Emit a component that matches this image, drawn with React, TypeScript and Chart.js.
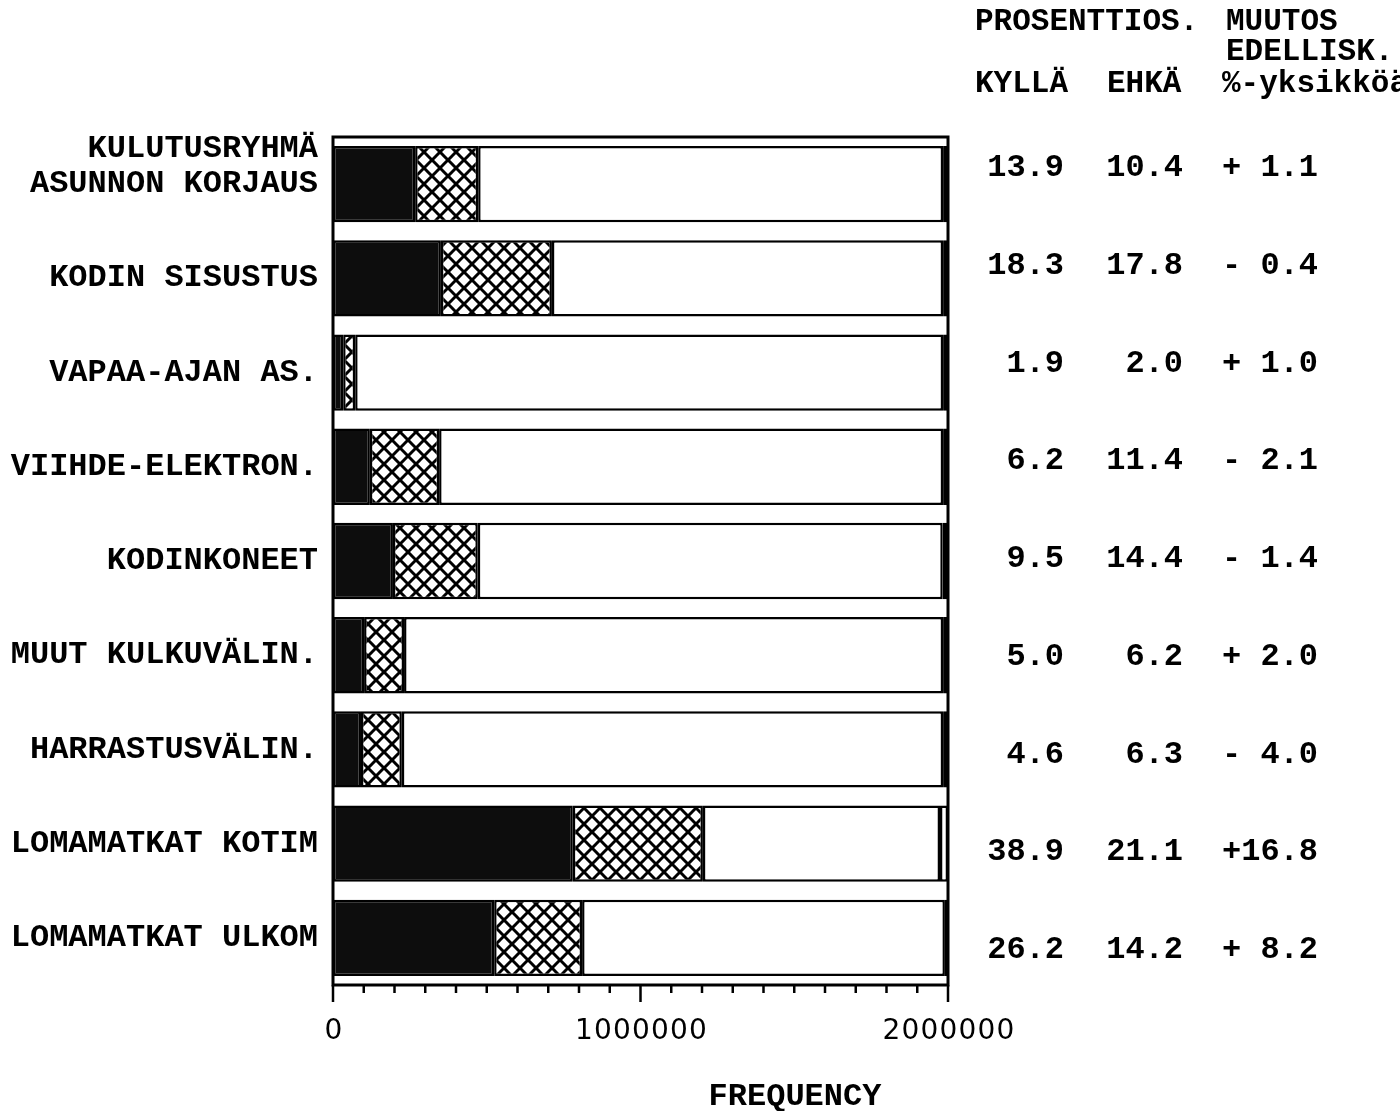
import React, { useEffect, useRef } from "react";
import { Chart, registerables } from "chart.js";

Chart.register(...registerables);

// ---------- data ----------
const categories = [
  "ASUNNON KORJAUS",
  "KODIN SISUSTUS",
  "VAPAA-AJAN AS.",
  "VIIHDE-ELEKTRON.",
  "KODINKONEET",
  "MUUT KULKUVÄLIN.",
  "HARRASTUSVÄLIN.",
  "LOMAMATKAT KOTIM",
  "LOMAMATKAT ULKOM",
];

// frequencies
const kyllaFreq = [267000, 351000, 33000, 120000, 195000, 101000, 91000, 780000, 524000];
const ehkaFreq = [205000, 361000, 39000, 225000, 276000, 130000, 133000, 423000, 286000];
const eiFreq = [1512000, 1272000, 1912000, 1639000, 1512000, 1753000, 1760000, 771000, 1180000];
const muuFreq = [16000, 16000, 16000, 16000, 16000, 16000, 16000, 26000, 10000];

// table on the right
const kyllaPct = ["13.9", "18.3", "1.9", "6.2", "9.5", "5.0", "4.6", "38.9", "26.2"];
const ehkaPct = ["10.4", "17.8", "2.0", "11.4", "14.4", "6.2", "6.3", "21.1", "14.2"];
const muutos = ["+ 1.1", "- 0.4", "+ 1.0", "- 2.1", "- 1.4", "+ 2.0", "- 4.0", "+16.8", "+ 8.2"];

const xTickLabels = [0, 1000000, 2000000];
const xMax = 2000000;
const minorStep = 100000;
const majorStep = 1000000;

const MONO = '"Liberation Mono", "DejaVu Sans Mono", monospace';

function makeHatch(): CanvasPattern | string {
  const s = 16;
  const c = document.createElement("canvas");
  c.width = s;
  c.height = s;
  const g = c.getContext("2d");
  if (!g) return "#fff";
  g.fillStyle = "#fff";
  g.fillRect(0, 0, s, s);
  g.strokeStyle = "#000";
  g.lineWidth = 3;
  for (let k = -1; k <= 1; k++) {
    g.beginPath();
    g.moveTo(k * s, 0);
    g.lineTo(k * s + s, s);
    g.stroke();
    g.beginPath();
    g.moveTo(k * s + s, 0);
    g.lineTo(k * s, s);
    g.stroke();
  }
  const p = g.createPattern(c, "repeat");
  return p || "#fff";
}

const decorPlugin = {
  id: "decor",
  afterDraw(chart: any) {
    const ctx: CanvasRenderingContext2D = chart.ctx;
    const a = chart.chartArea;
    const xs = chart.scales.x;
    ctx.save();
    // frame
    ctx.strokeStyle = "#000";
    ctx.lineWidth = 3;
    ctx.strokeRect(a.left, a.top, a.right - a.left, a.bottom - a.top);
    // ticks
    ctx.lineWidth = 2.5;
    for (let v = 0; v <= xMax; v += minorStep) {
      const px = xs.getPixelForValue(v);
      const major = v % majorStep === 0;
      ctx.beginPath();
      ctx.moveTo(px, a.bottom);
      ctx.lineTo(px, a.bottom + (major ? 17 : 8));
      ctx.stroke();
    }
    ctx.fillStyle = "#000";
    // x tick labels
    ctx.font = '28px "DejaVu Sans", sans-serif';
    try {
      (ctx as any).letterSpacing = "1.2px";
    } catch (e) {}
    ctx.textAlign = "center";
    ctx.textBaseline = "middle";
    xTickLabels.forEach((v) => {
      ctx.fillText(String(v), xs.getPixelForValue(v) + 1, 1032);
    });
    try {
      (ctx as any).letterSpacing = "0px";
    } catch (e) {}
    // axis titles
    ctx.font = `bold 32px ${MONO}`;
    ctx.textAlign = "center";
    ctx.fillText("FREQUENCY", 795, 1097);
    ctx.textAlign = "right";
    ctx.fillText("KULUTUSRYHMÄ", 318, 149);

    // right table header
    ctx.font = `bold 31px ${MONO}`;
    ctx.textAlign = "left";
    ctx.fillText("PROSENTTIOS.", 975, 22);
    ctx.fillText("MUUTOS", 1226, 22);
    ctx.fillText("EDELLISK.", 1226, 52);
    ctx.fillText("KYLLÄ", 975, 84);
    ctx.fillText("EHKÄ", 1107, 84);
    ctx.fillText("%-yksikköä", 1222, 84);

    // right table rows
    ctx.font = `bold 32px ${MONO}`;
    const rowStart = 168;
    const rowGap = 97.75;
    for (let i = 0; i < categories.length; i++) {
      const y = rowStart + i * rowGap;
      ctx.textAlign = "right";
      ctx.fillText(kyllaPct[i], 1064, y);
      ctx.fillText(ehkaPct[i], 1183, y);
      ctx.textAlign = "left";
      ctx.fillText(muutos[i], 1222, y);
    }
    ctx.restore();
  },
};

export default function App() {
  const ref = useRef<HTMLCanvasElement | null>(null);

  useEffect(() => {
    if (!ref.current) return;
    const hatch = makeHatch();
    const common = {
      borderColor: "#000",
      borderWidth: 2.5,
      borderSkipped: false as const,
      categoryPercentage: 1,
      barPercentage: 0.81,
    };
    const chart = new Chart(ref.current, {
      type: "bar",
      data: {
        labels: categories,
        datasets: [
          { label: "KYLLÄ", data: kyllaFreq, backgroundColor: "#0d0d0d", ...common },
          { label: "EHKÄ", data: ehkaFreq, backgroundColor: hatch as any, ...common },
          { label: "EI", data: eiFreq, backgroundColor: "#ffffff", ...common },
          { label: "MUU", data: muuFreq, backgroundColor: "#ffffff", ...common },
        ],
      },
      options: {
        indexAxis: "y",
        animation: false,
        responsive: true,
        maintainAspectRatio: false,
        devicePixelRatio: 1,
        layout: { padding: { left: 0, right: 452, top: 137, bottom: 0 } },
        plugins: {
          legend: { display: false },
          tooltip: { enabled: false },
          title: { display: false },
        },
        scales: {
          x: {
            stacked: true,
            min: 0,
            max: xMax,
            grid: { display: false, drawTicks: false },
            border: { display: false },
            ticks: { display: false },
            afterFit(scale: any) {
              scale.height = 126;
            },
          },
          y: {
            stacked: true,
            grid: { display: false, drawTicks: false },
            border: { display: false },
            ticks: {
              color: "#000",
              padding: 15,
              font: { family: MONO, size: 32, weight: "bold" },
            },
            afterFit(scale: any) {
              scale.width = 333;
            },
          },
        },
      },
      plugins: [decorPlugin],
    });
    return () => chart.destroy();
  }, []);

  return (
    <div style={{ position: "absolute", left: 0, top: 0, width: 1400, height: 1111, background: "#fff" }}>
      <canvas ref={ref} />
    </div>
  );
}
